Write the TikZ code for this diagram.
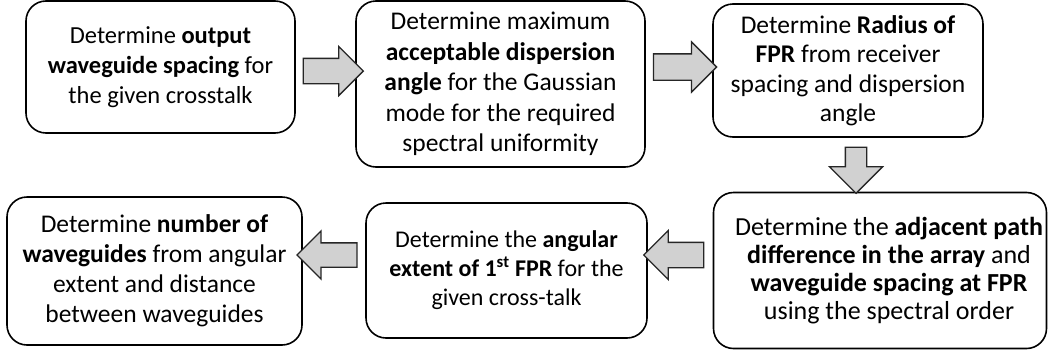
\documentclass[tikz,border=0pt]{standalone}
\usepackage{fontspec}
\setmainfont{Carlito}
\usetikzlibrary{shapes.arrows}
\tikzstyle{step box}=[shape=rectangle,
                rounded corners=20pt,
                draw=black,
                line width=1.6pt,
                align=center,
                inner sep=0pt,
                font=\fontsize{24.5}{30}\selectfont]
\tikzstyle{flow}=[single arrow,
                draw=black!85,
                fill=black!18,
                line width=1.3pt,
                inner sep=12pt,
                minimum height=60pt,
                single arrow head extend=12pt,
                single arrow head indent=0pt]

\begin{document}
\begin{tikzpicture}[x=1pt,y=-1pt]
\useasboundingbox (0,0) rectangle (1048,351);

% top row
\node[step box,minimum width=269pt,minimum height=132pt] (b1) at (160.5,67)
  {Determine \textbf{output}\\\textbf{waveguide spacing} for\\the given crosstalk};
\node[step box,minimum width=289pt,minimum height=166pt,
      font=\fontsize{25.5}{30.5}\selectfont] (b2) at (500.5,84)
  {Determine maximum\\\textbf{acceptable dispersion}\\\textbf{angle} for the Gaussian\\mode for the required\\spectral uniformity};
\node[step box,minimum width=270pt,minimum height=133pt,
      font=\fontsize{25.5}{29.5}\selectfont] (b3) at (848,70.5)
  {Determine \textbf{Radius of}\\\textbf{FPR} from receiver\\spacing and dispersion\\angle};

% bottom row
\node[step box,minimum width=333pt,minimum height=156pt,
      font=\fontsize{26}{28}\selectfont] (b6) at (880,270.5)
  {\hspace*{18pt}Determine the \textbf{adjacent path}\\\hspace*{18pt}\textbf{difference in the array} and\\\hspace*{18pt}\textbf{waveguide spacing at FPR}\\\hspace*{18pt}using the spectral order};
\node[step box,minimum width=281pt,minimum height=135pt,
      font=\fontsize{24}{29}\selectfont] (b5) at (506.5,270.5)
  {Determine the \textbf{angular}\\\textbf{extent of 1\textsuperscript{st} FPR} for the\\given cross-talk};
\node[step box,minimum width=295pt,minimum height=148pt,
      font=\fontsize{25.5}{30}\selectfont] (b4) at (154.5,271)
  {Determine \textbf{number of}\\\textbf{waveguides} from angular\\extent and distance\\between waveguides};

% arrows
\node[flow] (a1) at (327,71) {};
\node[flow,minimum height=63pt,inner sep=12.5pt] (a2) at (678.5,67) {};
\node[flow,shape border rotate=270,minimum height=46pt,inner sep=10pt,
      single arrow head extend=16pt] (a3) at (856,165) {};
\node[flow,shape border rotate=180] (a4) at (680,255) {};
\node[flow,shape border rotate=180,inner sep=11.5pt] (a5) at (333,255) {};
\end{tikzpicture}
\end{document}
